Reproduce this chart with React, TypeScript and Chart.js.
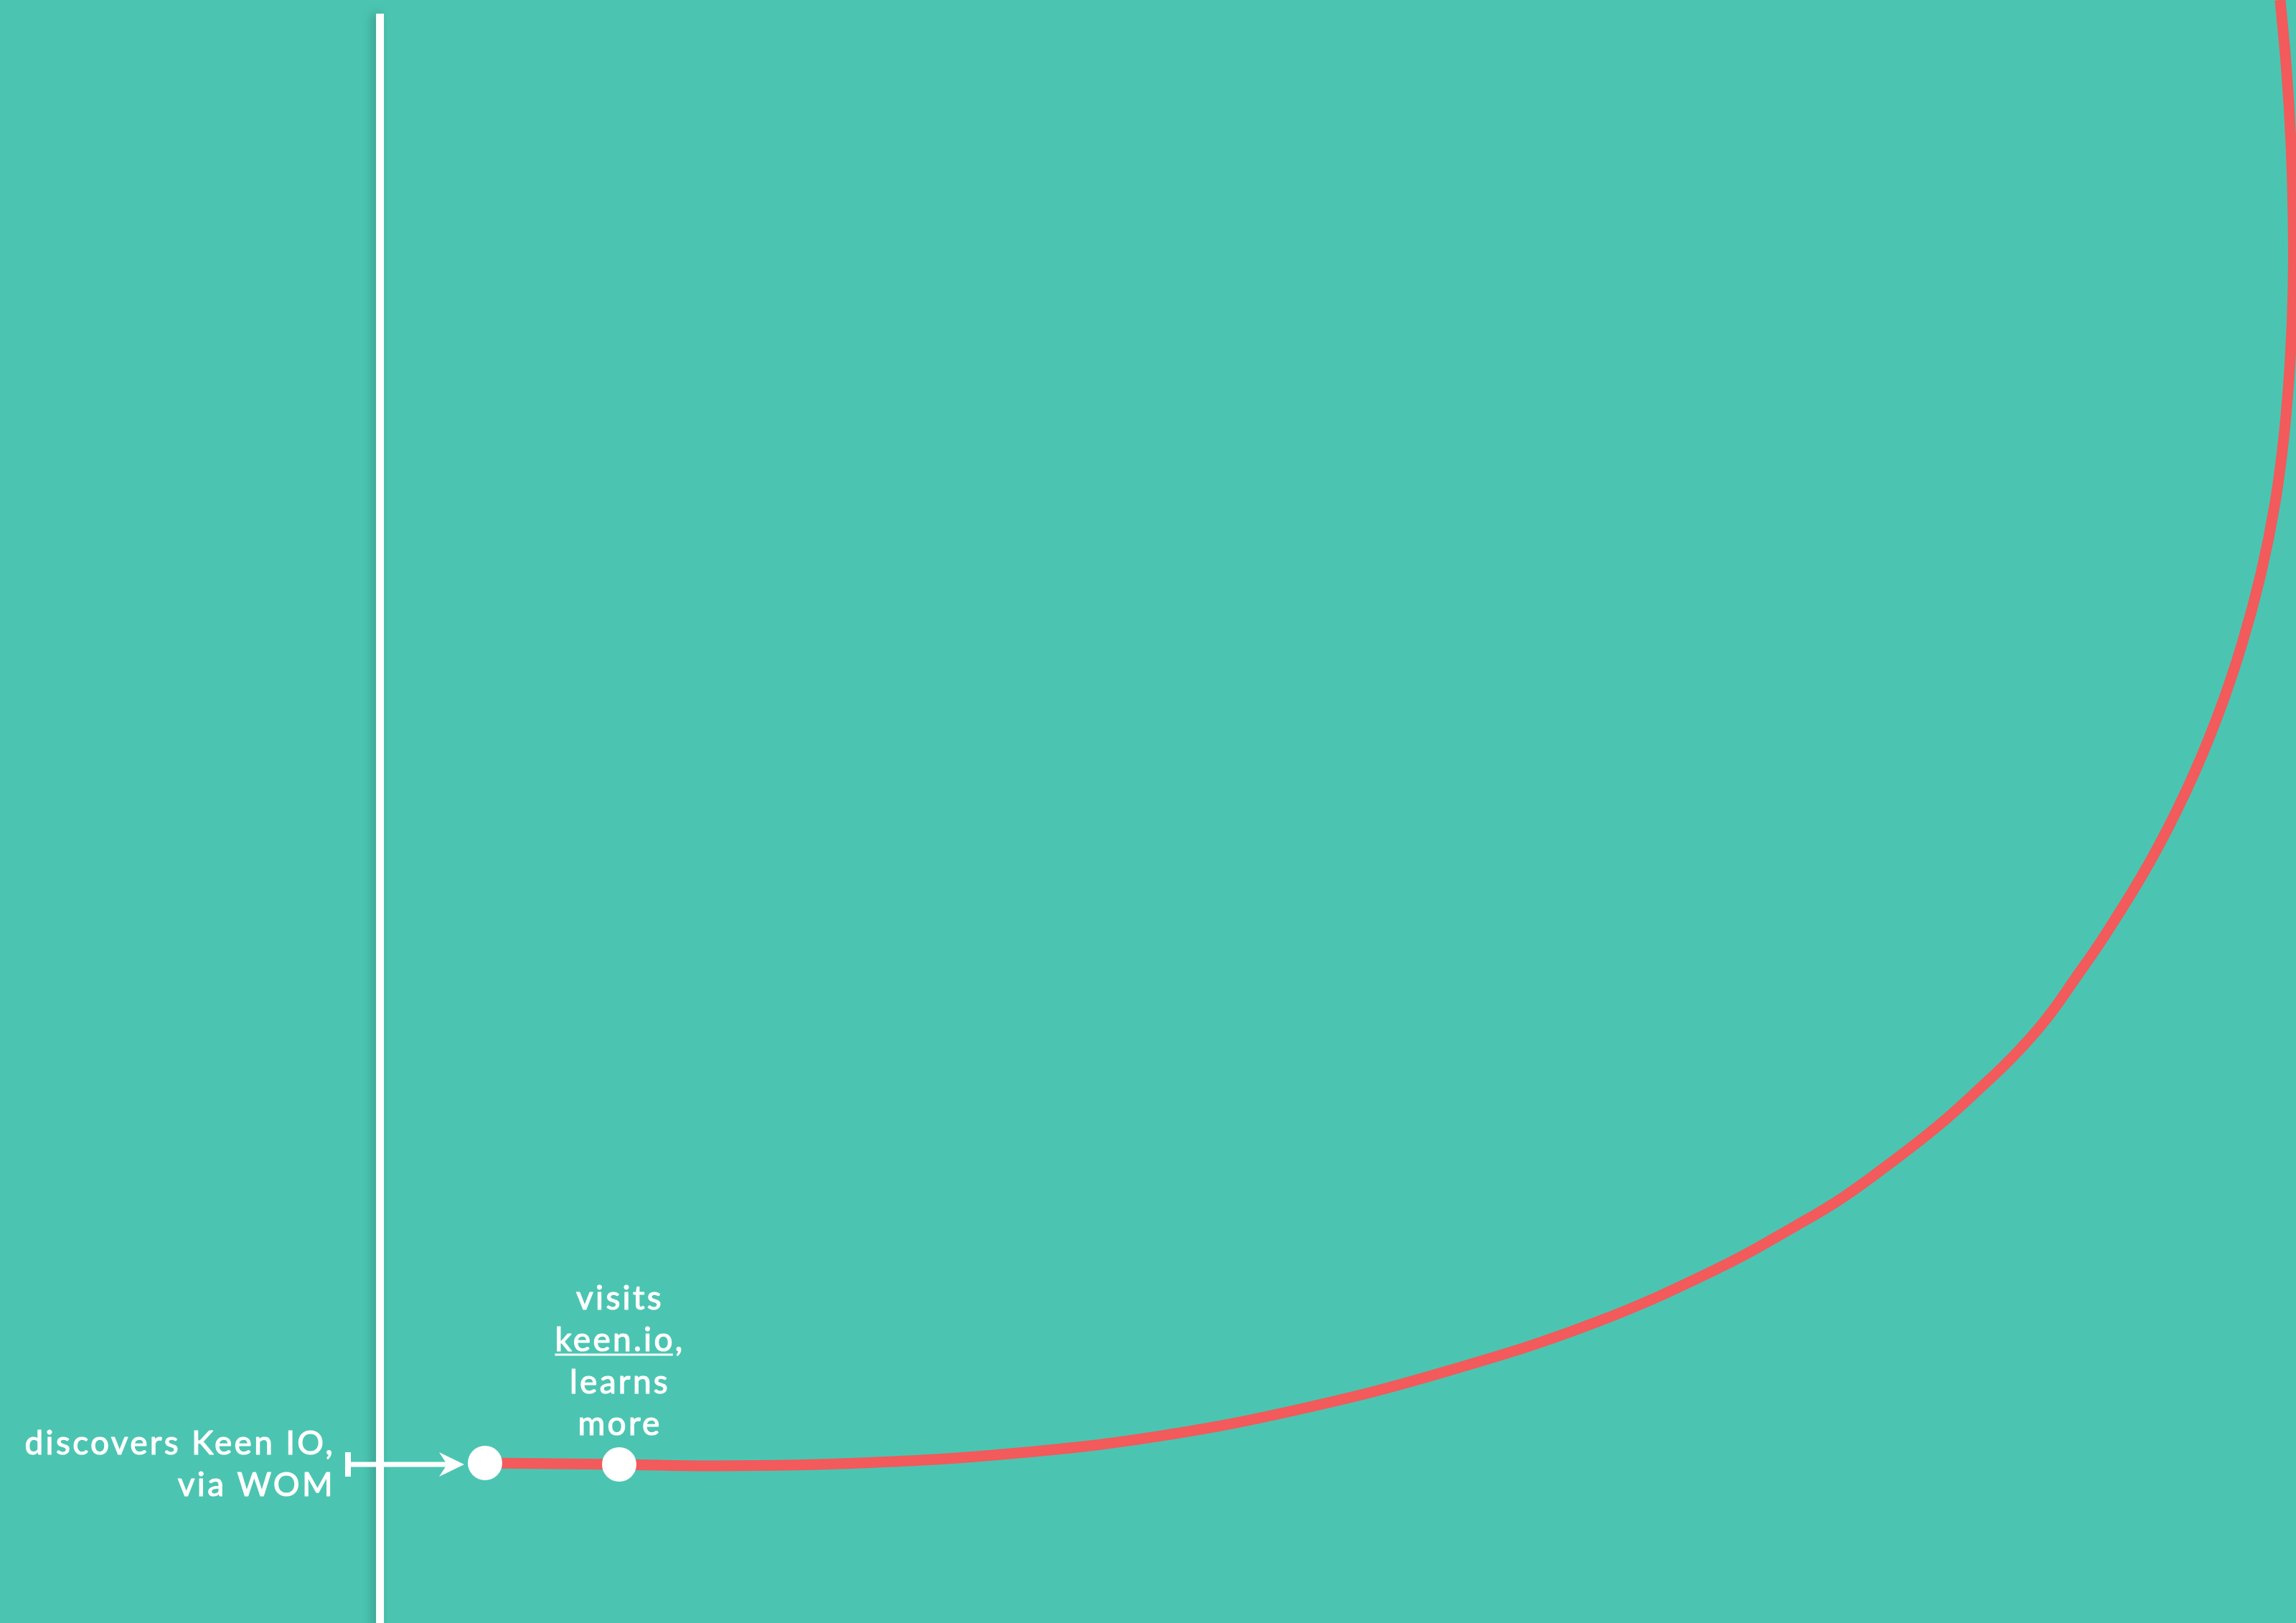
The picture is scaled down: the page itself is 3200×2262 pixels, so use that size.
import React, { useEffect, useRef } from "react";
import { Chart, registerables } from "chart.js";

Chart.register(...registerables);

const WIDTH = 3200;
const HEIGHT = 2262;

// Customer journey curve (x: time 0–160, y: engagement 0–100)
const curveX = [33.8, 43.15, 50, 60, 70.4, 80.6, 90.8, 101, 111.2, 120, 125.1, 128.35, 131.8, 135, 137.8, 140.4, 142.6, 144.75, 146.8, 149.85, 152.4, 154.5, 156.2, 157.55, 158.55, 159.2, 159.6, 159.8, 159.8, 159.65, 159.35, 158.9];
const curveY = [9.86, 9.77, 9.68, 9.86, 10.43, 11.49, 13.22, 15.56, 18.52, 21.97, 24.45, 26.17, 28.38, 30.59, 32.8, 35.01, 37.22, 39.88, 42.53, 46.95, 51.37, 55.79, 60.21, 64.63, 69.05, 73.47, 77.9, 82.32, 86.74, 91.16, 95.58, 100];

// Milestones on the curve
const milestoneX = [33.8, 43.15];
const milestoneY = [9.86, 9.77];

// Vertical start axis
const axisX = [26.48, 26.48];
const axisY = [99.16, -2];

// Labels
const discoverLines = ["discovers Keen IO,", "via WOM"];
const visitLines = ["visits", "keen.io,", "learns", "more"];
const visitLink = "keen.io";

// Annotation anchors (in data units)
const discoverAnchor = { x: 23.35, y: [10.39, 7.82] };
const visitAnchor = { x: 43.2, y: [19.32, 16.76, 14.15, 11.58] };
const arrowAnchor = { fromX: 24.25, toX: 32.35, y: 9.77 };

const TEAL = "#4BC5B1";
const RED = "#F25A5B";
const WHITE = "#FFFFFF";
const FONT = "46px Lato, 'Open Sans', sans-serif";
const LETTER_SPACING = "3.3px";

const backgroundPlugin = {
  id: "tealBackground",
  beforeDraw(chart: any) {
    const { ctx, width, height } = chart;
    ctx.save();
    ctx.fillStyle = TEAL;
    ctx.fillRect(0, 0, width, height);
    ctx.restore();
  },
};

const shadowPlugin = {
  id: "axisShadow",
  beforeDatasetDraw(chart: any, args: any) {
    if (chart.data.datasets[args.index].label !== "axis") return;
    const ctx = chart.ctx;
    ctx.save();
    ctx.shadowColor = "rgba(20, 80, 70, 0.35)";
    ctx.shadowBlur = 14;
    ctx.shadowOffsetX = -5;
  },
  afterDatasetDraw(chart: any, args: any) {
    if (chart.data.datasets[args.index].label !== "axis") return;
    chart.ctx.restore();
  },
};

const notesPlugin = {
  id: "journeyNotes",
  afterDatasetsDraw(chart: any) {
    const { ctx } = chart;
    const xs = chart.scales.x;
    const ys = chart.scales.y;
    ctx.save();
    ctx.fillStyle = WHITE;
    ctx.strokeStyle = WHITE;

    // arrow from the axis to the first milestone
    const ay = ys.getPixelForValue(arrowAnchor.y);
    const x0 = xs.getPixelForValue(arrowAnchor.fromX);
    const x1 = xs.getPixelForValue(arrowAnchor.toX);
    ctx.lineWidth = 8;
    ctx.beginPath();
    ctx.moveTo(x0, ay - 17);
    ctx.lineTo(x0, ay + 17);
    ctx.stroke();
    ctx.lineWidth = 7;
    ctx.beginPath();
    ctx.moveTo(x0, ay);
    ctx.lineTo(x1 - 20, ay);
    ctx.stroke();
    ctx.beginPath();
    ctx.moveTo(x1, ay);
    ctx.lineTo(x1 - 35, ay - 17);
    ctx.lineTo(x1 - 24, ay);
    ctx.lineTo(x1 - 35, ay + 17);
    ctx.closePath();
    ctx.fill();

    // texts (slightly emboldened with a thin stroke)
    ctx.font = FONT;
    (ctx as any).letterSpacing = LETTER_SPACING;
    ctx.textBaseline = "alphabetic";
    ctx.lineWidth = 1.2;
    ctx.lineJoin = "round";
    const drawText = (t: string, x: number, y: number) => {
      ctx.fillText(t, x, y);
      ctx.strokeText(t, x, y);
    };
    ctx.textAlign = "right";
    const dx = xs.getPixelForValue(discoverAnchor.x);
    discoverLines.forEach((line, i) => {
      drawText(line, dx, ys.getPixelForValue(discoverAnchor.y[i]));
    });

    ctx.textAlign = "center";
    const vx = xs.getPixelForValue(visitAnchor.x);
    visitLines.forEach((line, i) => {
      const by = ys.getPixelForValue(visitAnchor.y[i]);
      drawText(line, vx, by);
      if (line.startsWith(visitLink)) {
        const full = ctx.measureText(line).width;
        const link = ctx.measureText(visitLink).width;
        const left = vx - full / 2;
        ctx.lineWidth = 3;
        ctx.beginPath();
        ctx.moveTo(left, by + 5);
        ctx.lineTo(left + link - 3, by + 5);
        ctx.stroke();
        ctx.lineWidth = 1.2;
      }
    });
    ctx.restore();
  },
};

export default function App() {
  const canvasRef = useRef<HTMLCanvasElement | null>(null);

  useEffect(() => {
    if (!canvasRef.current) return;
    const toPoints = (xs: number[], ys: number[]) => xs.map((x, i) => ({ x, y: ys[i] }));
    const chart = new Chart(canvasRef.current, {
      type: "line",
      data: {
        datasets: [
          {
            label: "milestones",
            data: toPoints(milestoneX, milestoneY),
            pointRadius: 24,
            pointBackgroundColor: WHITE,
            pointBorderWidth: 0,
            borderWidth: 0,
            showLine: false,
          },
          {
            label: "journey",
            data: toPoints(curveX, curveY),
            showLine: true,
            borderColor: RED,
            borderWidth: 15,
            tension: 0.4,
            cubicInterpolationMode: "default",
            pointRadius: 0,
            fill: false,
            clip: false as any,
          },
          {
            label: "axis",
            data: toPoints(axisX, axisY),
            showLine: true,
            borderColor: WHITE,
            borderWidth: 11,
            borderCapStyle: "butt",
            tension: 0,
            pointRadius: 0,
            fill: false,
          },
        ],
      },
      options: {
        animation: false,
        responsive: false,
        devicePixelRatio: 1,
        parsing: { xAxisKey: "x", yAxisKey: "y" },
        layout: { padding: 0, autoPadding: false },
        plugins: {
          legend: { display: false },
          tooltip: { enabled: false },
          title: { display: false },
        },
        events: [],
        scales: {
          x: { type: "linear", min: 0, max: 160, display: false },
          y: { type: "linear", min: 0, max: 100, display: false },
        },
      },
      plugins: [backgroundPlugin, shadowPlugin, notesPlugin],
    });
    return () => chart.destroy();
  }, []);

  return (
    <div style={{ position: "fixed", left: 0, top: 0, width: WIDTH, height: HEIGHT, background: TEAL }}>
      <canvas ref={canvasRef} width={WIDTH} height={HEIGHT} style={{ width: WIDTH, height: HEIGHT, display: "block" }} />
    </div>
  );
}
